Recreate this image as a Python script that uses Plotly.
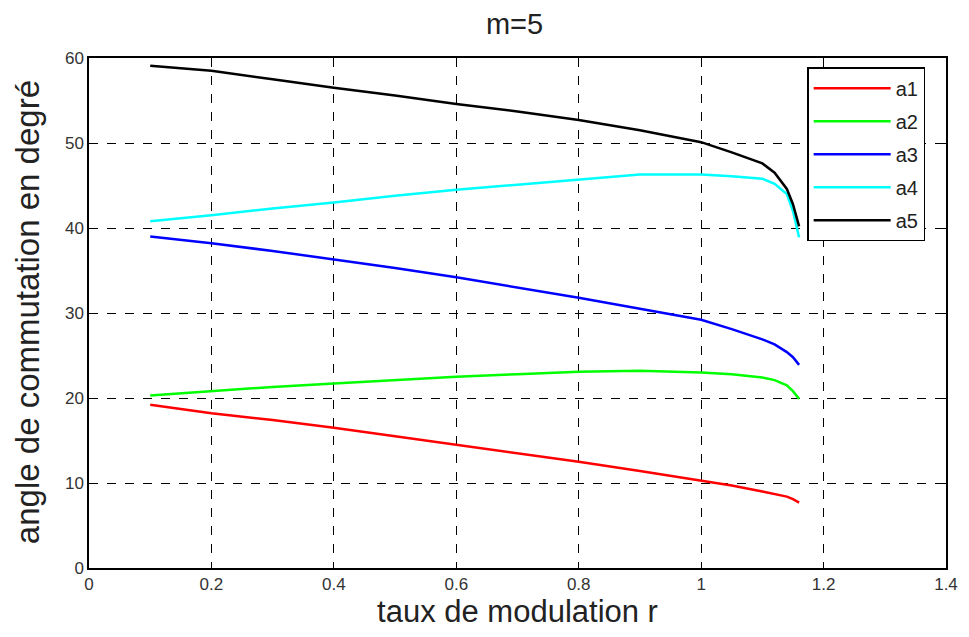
import plotly.graph_objects as go

r = [0.1, 0.2, 0.3, 0.4, 0.5, 0.6, 0.7, 0.8, 0.9, 1.0, 1.05, 1.1, 1.12, 1.14, 1.15, 1.16]
a1 = [19.2, 18.2, 17.4, 16.5, 15.5, 14.5, 13.5, 12.5, 11.4, 10.3, 9.7, 9.0, 8.7, 8.4, 8.1, 7.7]
a2 = [20.3, 20.8, 21.3, 21.7, 22.1, 22.5, 22.8, 23.1, 23.2, 23.0, 22.8, 22.4, 22.1, 21.5, 20.8, 19.9]
a3 = [39.0, 38.2, 37.3, 36.3, 35.3, 34.2, 33.0, 31.8, 30.5, 29.2, 28.1, 26.9, 26.3, 25.4, 24.8, 23.9]
a4 = [40.8, 41.5, 42.3, 43.0, 43.8, 44.5, 45.1, 45.7, 46.3, 46.3, 46.1, 45.8, 45.2, 44.0, 42.0, 38.9]
a5 = [59.1, 58.5, 57.5, 56.5, 55.6, 54.6, 53.7, 52.7, 51.5, 50.1, 48.9, 47.6, 46.5, 44.6, 42.8, 40.2]

series = [("a1", a1, "#ff0000"), ("a2", a2, "#00ff00"), ("a3", a3, "#0000ff"),
          ("a4", a4, "#00ffff"), ("a5", a5, "#000000")]

FONT = "Liberation Sans, Arial"

fig = go.Figure()
for name, vals, col in series:
    fig.add_trace(go.Scatter(x=r, y=vals, mode="lines", name=name, legendgroup=name,
                             line=dict(color=col, width=2.5)))

axis_common = dict(
    showgrid=True, gridcolor="black", griddash="dash", gridwidth=1,
    showline=True, linecolor="black", linewidth=1.5, mirror="ticks",
    ticks="inside", ticklen=5, tickcolor="black",
    tickfont=dict(family=FONT, size=17, color="#333"),
    zeroline=False,
)

fig.update_layout(
    width=969, height=637,
    margin=dict(l=89, r=23, t=58, b=69),
    paper_bgcolor="white", plot_bgcolor="white",
    title=dict(text="m=5", x=0.531, xanchor="center", y=0.962, yanchor="middle",
               font=dict(family=FONT, size=29, color="#222")),
    xaxis=dict(range=[0, 1.4], dtick=0.2, tickformat="~g",
               title=dict(text="taux de modulation r", standoff=6,
                          font=dict(family=FONT, size=31, color="#222")),
               **axis_common),
    yaxis=dict(range=[0, 60], dtick=10, **axis_common),
    legend=dict(x=0.838, y=0.982, xanchor="left", yanchor="top",
                bgcolor="white", bordercolor="black", borderwidth=1.5,
                font=dict(family=FONT, size=20, color="#222"),
                itemwidth=77, tracegroupgap=4),
    showlegend=True,
    annotations=[dict(text="angle de commutation en degré", textangle=-90,
                      xref="paper", yref="paper", x=-0.071, y=0.502,
                      xanchor="center", yanchor="middle", showarrow=False,
                      font=dict(family=FONT, size=33, color="#222"))],
)

fig.write_html("out.html")
